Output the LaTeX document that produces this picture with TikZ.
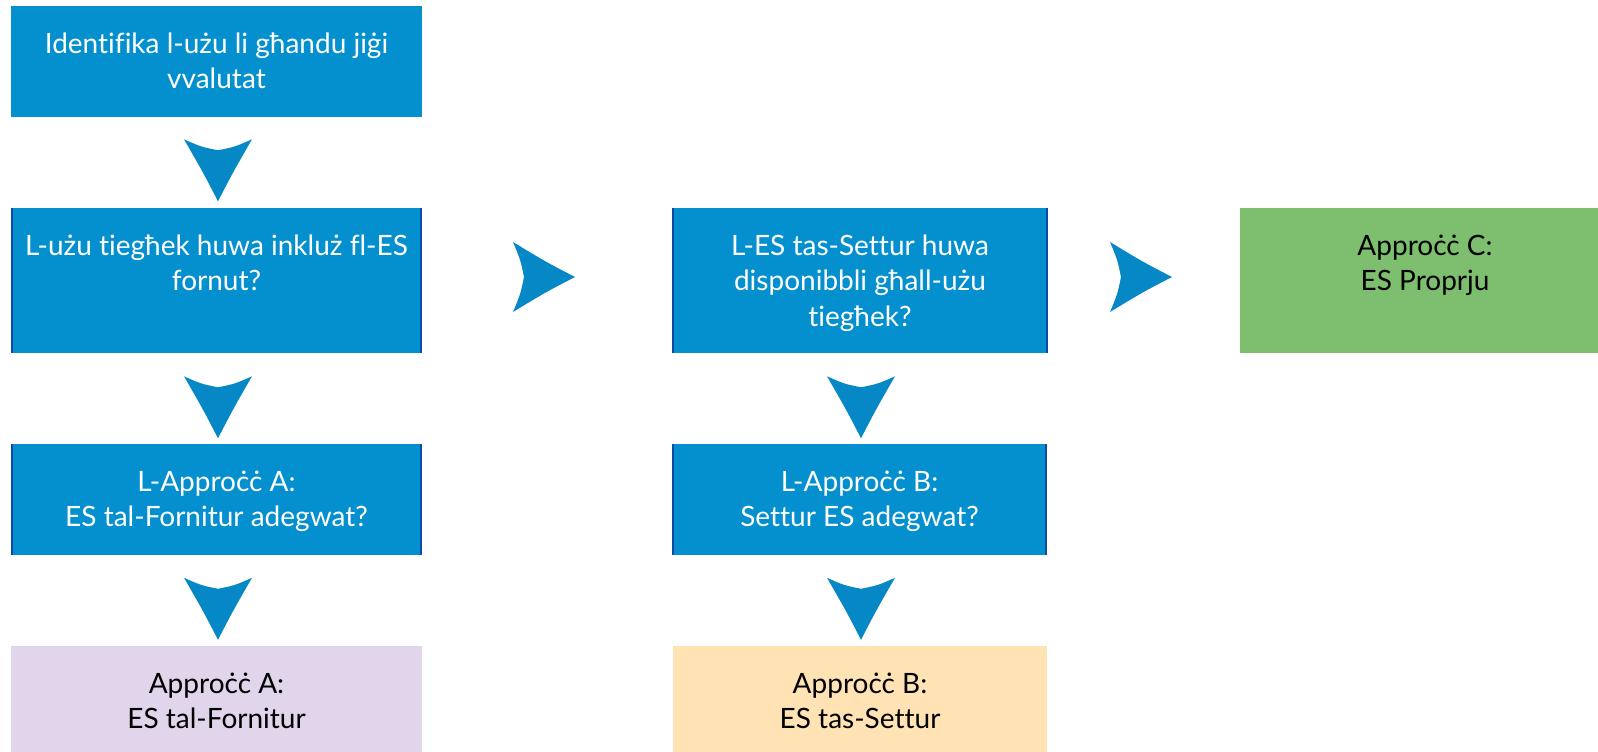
\documentclass[tikz,border=0pt]{standalone}
\usepackage{fontspec}
\setmainfont{Lato}[Ligatures=NoCommon]
\usetikzlibrary{calc}
\definecolor{boxblue}{HTML}{0490CF}
\definecolor{edgeblue}{HTML}{0D4BAA}
\definecolor{chevblue}{HTML}{0788C6}
\definecolor{boxgreen}{HTML}{7DBF6E}
\definecolor{boxlav}{HTML}{E0D5EB}
\definecolor{boxpeach}{HTML}{FFE3B5}
\tikzset{
  box/.style={rectangle, inner sep=0pt, draw=none},
  bluebox/.style={box, fill=boxblue},
  wtxt/.style={anchor=north, inner sep=0pt, align=center, text=white, font=\fontsize{28}{35.5}\selectfont},
  ktxt/.style={anchor=north, inner sep=0pt, align=center, text=black, font=\fontsize{28}{35.5}\selectfont},
  sideedge/.style={draw=edgeblue, line width=2pt},
  downchev/.pic={\fill[chevblue] (0,0) .. controls (-15,-29) .. (-34,-62) .. controls (-17,-54.5) .. (0,-51) .. controls (17,-54.5) .. (34,-62) .. controls (15,-29) .. (0,0) -- cycle;},
  rightchev/.pic={\fill[chevblue] (0,0) .. controls (-29,-15) .. (-62,-35) .. controls (-54.5,-17) .. (-51,0) .. controls (-54.5,17) .. (-62,35) .. controls (-29,15) .. (0,0) -- cycle;}
}
\begin{document}
\begin{tikzpicture}[x=1pt,y=-1pt]
\useasboundingbox (0,0) rectangle (1598,752);
% boxes
\node[bluebox, minimum width=411pt, minimum height=111pt] (b1) at (216.5,61.5) {};
\node[bluebox, minimum width=411pt, minimum height=145pt] (b2) at (216.5,280.5) {};
\node[bluebox, minimum width=376pt, minimum height=145pt] (b3) at (860,280.5) {};
\node[box, fill=boxgreen, minimum width=370pt, minimum height=145pt] (b4) at (1425,280.5) {};
\node[bluebox, minimum width=411pt, minimum height=111pt] (b5) at (216.5,499.5) {};
\node[bluebox, minimum width=375pt, minimum height=111pt] (b6) at (859.5,499.5) {};
\node[box, fill=boxlav, minimum width=411pt, minimum height=111pt] (b7) at (216.5,701.5) {};
\node[box, fill=boxpeach, minimum width=374pt, minimum height=111pt] (b8) at (860,701.5) {};
% side edges
\foreach \b in {b2,b3,b5,b6}{
  \draw[sideedge] ($(\b.north west)+(1,0)$) -- ($(\b.south west)+(1,0)$);
  \draw[sideedge] ($(\b.north east)+(-1,0)$) -- ($(\b.south east)+(-1,0)$);
}
% texts
\node[wtxt] (t1) at ($(b1.north)+(0,22.15)$) {\strut Identifika l-użu li għandu jiġi\\vvalutat};
\node[wtxt] (t2) at ($(b2.north)+(0,22.15)$) {\strut L-użu tiegħek huwa inkluż fl-ES\\fornut?};
\node[wtxt] (t3) at ($(b3.north)+(0,22.15)$) {\strut L-ES tas-Settur huwa\\disponibbli għall-użu\\tiegħek?};
\node[ktxt] (t4) at ($(b4.north)+(0,22.15)$) {\strut Approċċ C:\\ES Proprju};
\node[wtxt] (t5) at ($(b5.north)+(0,22.15)$) {\strut L-Approċċ A:\\ES tal-Fornitur adegwat?};
\node[wtxt] (t6) at ($(b6.north)+(0,22.15)$) {\strut L-Approċċ B:\\Settur ES adegwat?};
\node[ktxt] (t7) at ($(b7.north)+(0,22.15)$) {\strut Approċċ A:\\ES tal-Fornitur};
\node[ktxt] (t8) at ($(b8.north)+(0,22.15)$) {\strut Approċċ B:\\ES tas-Settur};
% chevrons
\pic at ($(b2.north)+(1.5,-6.5)$) {downchev};
\pic at ($(b5.north)+(1.5,-5.5)$) {downchev};
\pic at ($(b7.north)+(1.5,-6)$) {downchev};
\pic at ($(b6.north)+(1.5,-5.5)$) {downchev};
\pic at ($(b8.north)+(1,-6)$) {downchev};
\pic at ($($(b2.east)!0.5!(b3.west)$)+(28,-3.5)$) {rightchev};
\pic at ($($(b3.east)!0.5!(b4.west)$)+(28,-3.5)$) {rightchev};
\end{tikzpicture}
\end{document}
